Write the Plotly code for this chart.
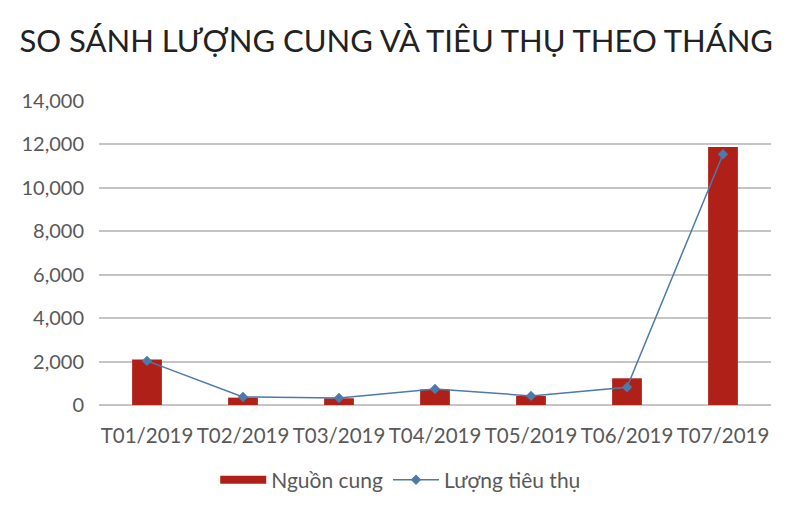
import plotly.graph_objects as go

# --- DỮ LIỆU ---
months = ["T01/2019", "T02/2019", "T03/2019", "T04/2019", "T05/2019", "T06/2019", "T07/2019"]
supply = [2100, 340, 310, 720, 415, 1230, 11880]        # Nguồn cung
consumption = [2030, 370, 320, 740, 420, 820, 11550]    # Lượng tiêu thụ
y_ticks = [0, 2000, 4000, 6000, 8000, 10000, 12000, 14000]

RED = "#AF2118"
BLUE = "#4C7AAB"

fig = go.Figure()

fig.add_trace(go.Bar(
    x=months, y=supply,
    name="Nguồn cung",
    marker=dict(color=RED, line=dict(width=0)),
    width=0.31,
    showlegend=False,
))

# mục chú giải dạng thanh ngang cho cột
fig.add_trace(go.Scatter(
    x=[None], y=[None],
    mode="lines",
    name="Nguồn cung",
    line=dict(color=RED, width=8),
))

fig.add_trace(go.Scatter(
    x=months, y=consumption,
    mode="lines+markers",
    name="Lượng tiêu thụ",
    line=dict(color=BLUE, width=1.5),
    marker=dict(symbol="diamond", size=8, color=BLUE),
))

fig.update_layout(
    width=794, height=508,
    paper_bgcolor="white", plot_bgcolor="white",
    margin=dict(l=91, r=31, t=93, b=111),
    font=dict(family="Lato", color="#595959"),
    title=dict(
        text="SO SÁNH LƯỢNG CUNG VÀ TIÊU THỤ THEO THÁNG",
        x=0.489, xanchor="center", y=0.935, yanchor="middle",
        font=dict(family="Lato", size=31, color="#222222"),
    ),
    xaxis=dict(
        tickfont=dict(size=20.5, color="#595959"), tickangle=0,
        showgrid=False, showline=False, ticks="", ticklabelstandoff=16,
    ),
    yaxis=dict(
        range=[0, 14000], tickvals=y_ticks, tickformat=",",
        tickfont=dict(size=20, color="#595959"),
        gridcolor="#C4C4C4", gridwidth=1.5,
        zeroline=True, zerolinecolor="#C4C4C4", zerolinewidth=1.5,
        showline=False, ticks="", ticklabelstandoff=14,
    ),
    showlegend=True,
    legend=dict(
        orientation="h", x=0.449, xanchor="center",
        y=-0.247, yanchor="middle",
        font=dict(family="Lato", size=21, color="#595959"),
        itemwidth=46,
    ),
    bargap=0.69,
)

fig.write_html("out.html")
